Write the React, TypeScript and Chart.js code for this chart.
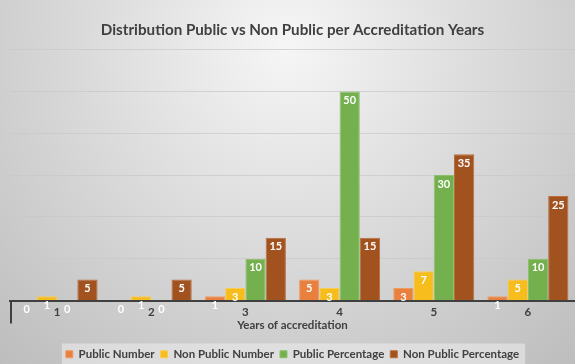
import React, { useEffect, useRef } from "react";
import { Chart, registerables } from "chart.js";

Chart.register(...registerables);

const categories = ["1", "2", "3", "4", "5", "6"];
const publicNumber = [0, 0, 1, 5, 3, 1];
const nonPublicNumber = [1, 1, 3, 3, 7, 5];
const publicPercentage = [0, 0, 10, 50, 30, 10];
const nonPublicPercentage = [5, 5, 15, 15, 35, 25];
const seriesNames = ["Public Number", "Non Public Number", "Public Percentage", "Non Public Percentage"];
const seriesColors = ["#E9803D", "#F7BD1C", "#74B04E", "#A1521F"];
const seriesBorders = ["#EE9A63", "#F9CC52", "#8CC06C", "#B8703F"];

const FONT = "Lato, 'Open Sans', sans-serif";

const bgPlugin = {
  id: "bgPlugin",
  beforeDraw(chart: any) {
    const { ctx, width, height } = chart;
    ctx.save();
    const g = ctx.createRadialGradient(width * 0.5, 45, 0, width * 0.5, 45, 430);
    g.addColorStop(0, "#f6f6f6");
    g.addColorStop(0.55, "#d6d6d6");
    g.addColorStop(1, "#bdbdbd");
    ctx.fillStyle = g;
    ctx.fillRect(0, 0, width, height);
    const boxes = chart.legend && chart.legend.legendHitBoxes;
    if (boxes && boxes.length) {
      let l = Infinity, r = -Infinity, t = Infinity;
      boxes.forEach((h: any) => {
        l = Math.min(l, h.left); r = Math.max(r, h.left + h.width);
        t = Math.min(t, h.top);
      });
      ctx.fillStyle = "rgba(235,235,235,0.6)";
      ctx.fillRect(l - 4, t - 5, r - l + 10, height - t + 5);
    }
    ctx.restore();
  },
  afterDraw(chart: any) {
    const { ctx } = chart;
    const x = chart.scales.x;
    const y = chart.scales.y;
    const y0 = y.getPixelForValue(0);
    ctx.save();
    ctx.strokeStyle = "#404040";
    ctx.lineWidth = 2;
    ctx.beginPath();
    ctx.moveTo(x.left + 1, y0);
    ctx.lineTo(x.left + 1, y0 + 23);
    ctx.stroke();
    ctx.restore();
  },
};

const labelPlugin = {
  id: "labelPlugin",
  afterDatasetsDraw(chart: any) {
    const { ctx } = chart;
    ctx.save();
    ctx.font = `bold 11px ${FONT}`;
    ctx.fillStyle = "#ffffff";
    ctx.textAlign = "center";
    ctx.textBaseline = "middle";
    chart.data.datasets.forEach((ds: any, i: number) => {
      const meta = chart.getDatasetMeta(i);
      meta.data.forEach((el: any, j: number) => {
        ctx.fillText(String(ds.data[j]), el.x, el.y + 9);
      });
    });
    ctx.restore();
  },
};

export default function App() {
  const ref = useRef<HTMLCanvasElement>(null);
  useEffect(() => {
    document.body.style.margin = "0";
    const data = [publicNumber, nonPublicNumber, publicPercentage, nonPublicPercentage];
    const chart = new Chart(ref.current!, {
      type: "bar",
      data: {
        labels: categories,
        datasets: data.map((d, i) => ({
          label: seriesNames[i],
          data: d,
          backgroundColor: seriesColors[i],
          borderColor: seriesBorders[i],
          borderWidth: 1,
          categoryPercentage: 0.86,
          barPercentage: 1,
        })),
      },
      options: {
        animation: false,
        responsive: false,
        maintainAspectRatio: false,
        layout: { padding: { left: 10, right: 0, top: 0, bottom: -6 } },
        plugins: {
          title: {
            display: true,
            text: "Distribution Public vs Non Public per Accreditation Years",
            color: "#404040",
            font: { family: FONT, size: 15.2, weight: "bold" },
            padding: { top: 21, bottom: 10.5 },
          },
          legend: {
            position: "bottom",
            labels: {
              color: "#404040",
              font: { family: FONT, size: 11.5, weight: "bold" },
              boxWidth: 7,
              boxHeight: 7,
              padding: 6,
            },
          },
          tooltip: { enabled: false },
        },
        scales: {
          x: {
            grid: { display: false, drawTicks: false },
            border: { display: true, color: "#404040", width: 2 },
            ticks: {
              color: "#404040",
              font: { family: FONT, size: 11.5, weight: "bold", lineHeight: 1 },
              padding: 6,
            },
            title: {
              display: true,
              text: "Years of accreditation",
              color: "#404040",
              font: { family: FONT, size: 11.5, weight: "bold", lineHeight: 1 },
              padding: { top: -4, bottom: 11 },
            },
          },
          y: {
            min: 0,
            max: 60,
            ticks: { display: false, stepSize: 10 },
            grid: { color: "rgba(200,200,200,0.7)", drawTicks: false },
            border: { display: false },
          },
        },
      },
      plugins: [bgPlugin, labelPlugin],
    });
    return () => chart.destroy();
  }, []);
  return (
    <div style={{ position: "fixed", left: 0, top: 0, width: 575, height: 364 }}>
      <canvas ref={ref} width={575} height={364} style={{ width: 575, height: 364 }} />
    </div>
  );
}
